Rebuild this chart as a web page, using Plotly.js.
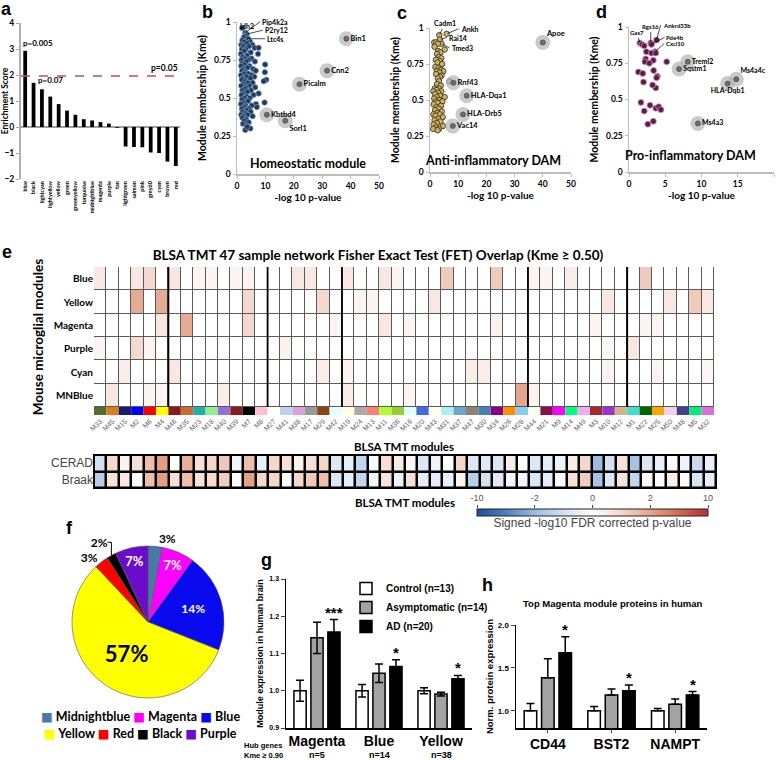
<!DOCTYPE html>
<html><head><meta charset="utf-8">
<script src="https://cdn.plot.ly/plotly-3.0.1.min.js"></script>
<style>html,body{margin:0;padding:0;background:#fff}#chart{width:778px;height:760px}</style>
</head><body><div id="chart"></div>
<script>
// ================= DATA =================
// a: enrichment
const enrichModules = ['blue','black','lightcyan','lightyellow','yellow','green','greenyellow','turquoise','midnightblue','magenta','purple','tan','lightgreen','salmon','pink','grey60','cyan','brown','red'];
const enrichScores = [2.93,1.70,1.45,1.17,0.88,0.63,0.47,0.30,0.25,0.19,0.13,-0.03,-0.75,-0.77,-0.78,-0.98,-1.00,-1.33,-1.50];
const enrichThreshold = 1.96;
const enrichPLabels = ['p=0.005','p=0.07'];
const enrichThresholdLabel = 'p=0.05';

// b: homeostatic module
const bX = [1.8,2.9,3.4,3.0,2.4,3.9,1.9,4.6,2.7,3.6, 1.5,5.4,2.2,4.2,6.2,7.6,1.7,3.1,2.5,4.8, 7.4,1.4,3.5,2.0,5.1,2.8,1.6,4.0,3.2,6.3, 1.9,9.9,2.6,4.4,1.5,3.7,2.2,5.7,6.6,1.8, 3.0,9.8,4.1,2.4,1.4,5.2,3.4,6.1,2.0,4.7, 10.3,9.4,1.7,2.9,3.8,5.5,2.3,1.5,4.3,3.1, 6.4,2.7,1.9,4.9,3.6,2.1,7.6,1.6,5.8,3.3, 2.5,4.5,1.8,3.9,2.2,9.7,6.7,1.4,5.2,3.0, 2.6,4.2,1.7,3.5,7.0,2.0,4.8,2.9,1.5,3.7, 2.3,5.5,1.9,3.2,2.6,4.1,2.1,3.4,4.7,2.9, 3.6];
const bY = [0.96,0.93,0.92,0.91,0.90,0.89,0.88,0.87,0.87,0.86, 0.85,0.85,0.84,0.84,0.83,0.83,0.82,0.82,0.81,0.80, 0.79,0.79,0.78,0.77,0.76,0.76,0.75,0.75,0.74,0.74, 0.73,0.72,0.72,0.71,0.71,0.70,0.69,0.69,0.68,0.68, 0.67,0.67,0.66,0.66,0.65,0.65,0.64,0.64,0.63,0.63, 0.62,0.61,0.62,0.61,0.60,0.60,0.59,0.58,0.58,0.57, 0.57,0.56,0.55,0.55,0.54,0.53,0.53,0.52,0.52,0.51, 0.50,0.50,0.49,0.48,0.47,0.47,0.46,0.46,0.45,0.45, 0.44,0.43,0.43,0.42,0.44,0.41,0.41,0.40,0.39,0.39, 0.38,0.38,0.37,0.36,0.35,0.34,0.33,0.32,0.30,0.29, 0.31];
const bHaloNames = ['Bin1','Cnn2','Picalm','Kbtbd4','Sorl1'];
const bHaloX = [38.5,31.7,22,10.5,17];
const bHaloY = [0.89,0.68,0.59,0.39,0.35];
const bLeadNames = ['Idh2','Pip4k2a','P2ry12','Ltc4s'];
const bLeadX = [1.8,2.9,3.4,3.9];
const bLeadY = [0.96,0.93,0.92,0.89];

// c: anti-inflammatory DAM
const cX = [3.3,5.9,3.5,4.1,1.5,2.2,2.8,1.6,5.2,2.9, 3.7,2.5,3.2,4.0,2.1,3.5,2.7,4.3,1.9,3.0, 3.9,2.4,4.7,3.4,2.2,4.1,3.6,2.8,3.2,6.9, 2.5,3.8,1.7,3.1,2.3,1.2,4.0,2.9,1.8,3.6, 2.4,5.2,1.5,3.3,2.1,4.4,2.7,1.3,3.9,2.3, 3.1,1.8,4.2,2.6,1.2,3.5,2.0,4.5,2.9,1.6, 3.7,2.4,1.3,4.6,2.1,1.1,3.2,2.7];
const cY = [0.95,0.96,0.92,0.89,0.90,0.90,0.89,0.87,0.85,0.84, 0.83,0.82,0.80,0.79,0.78,0.77,0.76,0.75,0.73,0.72, 0.71,0.70,0.70,0.69,0.68,0.67,0.66,0.65,0.63,0.63, 0.61,0.60,0.58,0.58,0.57,0.56,0.56,0.55,0.54,0.53, 0.52,0.52,0.51,0.50,0.49,0.49,0.48,0.47,0.46,0.45, 0.44,0.43,0.42,0.41,0.40,0.40,0.39,0.38,0.37,0.36, 0.35,0.34,0.33,0.32,0.31,0.30,0.30,0.29];
const cHaloNames = ['Apoe','Rnf43','HLA-Dqa1','HLA-Drb5','Vac14'];
const cHaloX = [40,8.3,13,11.7,8.1];
const cHaloY = [0.90,0.62,0.53,0.40,0.32];
const cLeadNames = ['Cadm1','Ankh','Rai14','Tmed3'];
const cLeadX = [3.3,5.9,3.5,4.1];
const cLeadY = [0.95,0.96,0.92,0.89];

// d: pro-inflammatory DAM
const dX = [1.5,1.8,2.1,3.0,3.8,3.1,3.6,2.4,3.1,3.7, 2.3,2.2,3.35,2.8,5.2,1.3,1.9,3.4,3.9,3.8, 3.7,2.0,3.25,1.65,2.9,2.1,3.7,4.1,4.4,2.6, 3.35];
const dY = [0.89,0.88,0.87,0.89,0.91,0.88,0.83,0.83,0.82,0.82, 0.78,0.76,0.77,0.75,0.76,0.69,0.68,0.70,0.66,0.65, 0.58,0.62,0.60,0.48,0.46,0.42,0.44,0.45,0.43,0.33, 0.35];
const dHaloNames = ['Treml2','Sqstm1','Ms4a4c','HLA-Dqb1','Ms4a3'];
const dHaloX = [8.1,6.9,14.8,13.6,9.5];
const dHaloY = [0.76,0.71,0.64,0.61,0.335];
const dLeadNames = ['Gas7','Rgs16','Ankrd33b','Pde4b','Cxcl10'];
const dLeadX = [1.5,3.0,3.8,3.1,3.6];
const dLeadY = [0.89,0.89,0.91,0.88,0.83];

// e: FET overlap
const moduleNames = ['M33','M45','M15','M2','M6','M4','M46','M35','M23','M18','M40','M39','M7','M8','M27','M41','M38','M17','M29','M42','M19','M24','M13','M11','M36','M16','M20','M43','M31','M37','M47','M30','M34','M26','M28','M44','M21','M9','M14','M49','M3','M10','M12','M1','M22','M25','M50','M48','M5','M32'];
const moduleColors = ['#556b2f','#e07b1a','#191970','#0000ff','#ff0000','#ffff00','#8b1a1a','#cd6839','#20b2aa','#90ee90', '#9370db','#8b1a1a','#000000','#ffc0cb','#ffffff','#bcd2ee','#dda0dd','#999999','#8b4513','#e0ffff', '#ffffe0','#a9a9a9','#fa8072','#adff2f','#9acd32', '#e0ffff','#4169e1','#fffff0','#afeeee','#6ca6cd', '#8b8378','#4682b4','#8b008b','#ff8c00','#87ceeb', '#fffff0','#8b0a50','#ff00ff','#00ff7f','#eeaeee', '#a52a2a','#9a32cd','#d2b48c','#40e0d0','#006400', '#ffa500','#eed2ee','#483d8b','#00ee76','#da70d6'];
const moduleGroupStarts = ['M46','M27','M19','M44','M1'];
const fetRows = ['Blue','Yellow','Magenta','Purple','Cyan','MNBlue'];
const fetBlue    = [1,0,0,1,1.5,0,1,0,0.5,0.5, 0,0.5,0.5,0,0,0,1,1,0,0, 1,0,0,1,0.5,0,0,0,2,0, 0,0,2,0,0,0.5,0.5,0,0.8,0, 0,0,0,0,2,0,0,0,0,0];
const fetYellow  = [0,0,0,3,0,3,0,0,0,0, 0,0,1.5,0,0,0,0,0,1.5,0, 0,0.5,0.5,0,0,0,0,1,0,0, 0,0,0,0,0,0,0,0,0,0, 0,1,0,0,0,0,1,0,2,1];
const fetMagenta = [0,0,0,0,0,1,0,3,0,0, 0,0,1.5,0,0,0,0,0,0,0.5, 0,0,0,1,0,0.5,0,0,0,0, 0,0,0.6,0,0,0,0,0,0,0, 0.5,0,0,0,0.5,0.5,0,0,0,0];
const fetPurple  = [0.5,0,0,1.5,0.5,0,0,0,0,0, 0,0,0,0,0,0.6,0,0,0,0, 0,0,0,0,0,0,0,0,0,0, 0,0,0,0,0,0,0,0,0,0, 0,0.3,0,1,0,0,0,0,0,0];
const fetCyan    = [0,0,0.8,0,0,0,1,0,0,0, 0,0,0,0,0,0,0,0,0.8,0, 0.5,0,0,0,0,0,0,0,0,0, 0.8,0.8,0,0,0,0,0,0,0,0, 0,0.5,0,0,0,0.5,0,0,0,0.4];
const fetMNBlue  = [0,1,0,0,0.5,0.5,0,0,0,0, 0.8,0,0,0,0,0,0,0,0,0, 0.8,0,0,0,0,0.5,0,0,0,0, 0,0,0,0,3.2,0.5,0,0,0,0, 0,0,0,0,0,0,0,0,0,0];
const traitRows = ['CERAD','Braak'];
const ceradSigned = [-1,1,0.3,0.8,1.5,2.5,0,1.8,0.8,1, 1.3,-0.3,1.5,-0.5,1,0.8,0.3,0.8,1,-0.8, -0.6,-1.3,-0.2,0.8,0.5, 0.2,-0.8,-0.4,0,1, -0.8,-0.7,-0.8,0.5,0,-0.8,-0.6,-0.4,0.5,1, -2,-1,0.7,-1.8,-0.8,-0.5,0.1,-0.4,-1.2,-0.5];
const braakSigned = [-1.5,0.7,0.6,0,1.5,2.5,0.8,1.5,0.7,0.9, 1.2,0.1,2.3,1,1,0,1,1.3,1.5,-0.8, -0.6,-1.3,-0.3,0.7,-0.4, 0.8,-0.6,-0.6,-0.5,0.3, -1.5,-1,-0.7,-0.3,-0.3,-0.8,-0.6,0,0.8,1.2, -1.8,-0.8,0.7,-1.3,0.2,0.1,0.4,0.1,-0.9,-0.6];
const colorbarTicks = [-10,-2,0,2,10];

// f: pie
const pieLabels = ['Midnightblue','Magenta','Blue','Yellow','Red','Black','Purple'];
const pieShares = [3,7,21,57,3,2,7];
const pieText = ['3%','7%','14%','57%','3%','2%','7%'];
const pieColors = ['#4a78a8','#ff00ff','#0a0aee','#ffff00','#ff0000','#000000','#6a0ccc'];

// g: module expression
const gGroups = ['Magenta','Blue','Yellow'];
const gHubN = [5,14,38];
const gControl = [1.0,1.0,1.0];
const gControlErr = [0.028,0.017,0.008];
const gAsym = [1.142,1.047,0.991];
const gAsymErr = [0.042,0.025,0.005];
const gAD = [1.158,1.065,1.032];
const gADErr = [0.033,0.018,0.009];
const gSig = ['***','*','*'];
const seriesNames = ['Control (n=13)','Asymptomatic (n=14)','AD (n=20)'];

// h: top magenta proteins
const hGroups = ['CD44','BST2','NAMPT'];
const hControl = [1.0,1.0,1.0];
const hControlErr = [0.086,0.05,0.027];
const hAsym = [1.384,1.184,1.078];
const hAsymErr = [0.224,0.07,0.059];
const hAD = [1.678,1.235,1.184];
const hADErr = [0.185,0.067,0.04];
const hSig = ['*','*','*'];

// ================= HELPERS =================
const W = 778, H = 760;
const px = v => v / W;
const py = v => 1 - v / H;
const dom = (a, b) => [px(a), px(b)];
const domY = (top, bottom) => [py(bottom), py(top)];
const CAL = 'Lato, "Open Sans", "DejaVu Sans", sans-serif';
const ARI = '"Liberation Sans", Arial, sans-serif';
const fnt = (size, family, color, weight) => ({size: size, family: family || CAL, color: color || '#000', weight: weight || 'bold'});
const BARGAP = 0.18, BARGROUPGAP = 0.28;

const traces = [];
const annotations = [];
const shapes = [];

// ---------- a ----------
traces.push({type:'bar', x: enrichModules, y: enrichScores, xaxis:'x', yaxis:'y', width:0.45,
  marker:{color:'#000'}, showlegend:false, hoverinfo:'skip'});
shapes.push({type:'line', xref:'x domain', x0:0, x1:1, yref:'y', y0:enrichThreshold, y1:enrichThreshold,
  line:{color:'#c0504d', width:1.6, dash:'dash'}});
annotations.push({xref:'x', yref:'y', x:0, y:enrichScores[0], text:enrichPLabels[0], showarrow:false,
  xanchor:'left', yanchor:'bottom', xshift:-4, yshift:1, font:fnt(8)});
annotations.push({xref:'x', yref:'y', x:1, y:enrichScores[1], text:enrichPLabels[1], showarrow:false,
  xanchor:'left', yanchor:'middle', xshift:2, yshift:3, font:fnt(8)});
annotations.push({xref:'x domain', yref:'y', x:1, y:enrichThreshold, text:enrichThresholdLabel, showarrow:false,
  xanchor:'right', yanchor:'bottom', yshift:1, font:fnt(8.5)});

// ---------- scatter panels ----------
function scatterPanel(n, cx, cy, cloudMarker, hNames, hX, hY, hPos, hFont) {
  const xa = 'x' + n, ya = 'y' + n;
  traces.push({type:'scatter', mode:'markers', x:cx, y:cy, xaxis:xa, yaxis:ya, marker:cloudMarker,
    showlegend:false, hoverinfo:'skip', cliponaxis:false});
  traces.push({type:'scatter', mode:'markers', x:hX, y:hY, xaxis:xa, yaxis:ya,
    marker:{size:15, color:'rgba(180,180,180,0.7)'}, showlegend:false, hoverinfo:'skip', cliponaxis:false});
  traces.push({type:'scatter', mode:'markers+text', x:hX, y:hY, text:hNames, textposition:hPos,
    textfont:fnt(hFont), xaxis:xa, yaxis:ya, marker:{size:5, color:'#6e6e6e', line:{color:'#333', width:0.6}},
    showlegend:false, hoverinfo:'skip', cliponaxis:false});
}
function leaders(n, names, xs, ys, offs) {
  names.forEach((t, i) => {
    const o = offs[i];
    if (o.noArrow) {
      annotations.push({xref:'x'+n, yref:'y'+n, x:xs[i], y:ys[i], text:t, showarrow:false,
        xanchor:o.xa || 'center', yanchor:'bottom', xshift:o.ax, yshift:-o.ay, font:fnt(o.fs || 7)});
    } else {
      annotations.push({xref:'x'+n, yref:'y'+n, x:xs[i], y:ys[i], text:t, showarrow:true, arrowhead:0,
        arrowwidth:0.7, arrowcolor:'#000', ax:o.ax, ay:o.ay, xanchor:o.xa || 'left', yanchor:'middle',
        standoff:1, font:fnt(o.fs || 7)});
    }
  });
}
scatterPanel(2, bX, bY, {size:5.5, color:'#1f3a5c', line:{color:'#7f9fc4', width:0.7}},
  bHaloNames, bHaloX, bHaloY, ['middle right','middle right','middle right','middle right','bottom right'], 7.5);
leaders(2, bLeadNames, bLeadX, bLeadY, [
  {noArrow:true, ax:-4, ay:4, xa:'left'}, {ax:15, ay:-11}, {ax:16, ay:-4}, {ax:17, ay:0}]);

scatterPanel(3, cX, cY, {size:5.5, color:'#d2b25c', line:{color:'#2a2a2a', width:0.8}},
  cHaloNames, cHaloX, cHaloY, ['top right','middle right','middle right','middle right','middle right'], 7.5);
leaders(3, cLeadNames, cLeadX, cLeadY, [
  {ax:6, ay:-12, xa:'center'}, {ax:12, ay:-5}, {ax:7, ay:-2}, {ax:8, ay:4}]);

scatterPanel(4, dX, dY, {size:6, color:'#5e1a48', line:{color:'#c99ab8', width:0.8}},
  dHaloNames, dHaloX, dHaloY, ['middle right','middle right','top right','bottom center','middle right'], 7);
leaders(4, dLeadNames, dLeadX, dLeadY, [
  {ax:-3, ay:-10, xa:'center', fs:6}, {ax:0, ay:-16, xa:'center', fs:6}, {ax:4, ay:-15, fs:6},
  {ax:13, ay:-7, fs:6}, {ax:9, ay:-8, fs:6}]);

// ---------- e ----------
traces.push({type:'heatmap', z:[fetBlue,fetYellow,fetMagenta,fetPurple,fetCyan,fetMNBlue], x:moduleNames, y:fetRows,
  xaxis:'x5', yaxis:'y5', zmin:0, zmax:3.5, colorscale:[[0,'#ffffff'],[0.3,'#f9e7df'],[1,'#e19c82']],
  showscale:false, xgap:1, ygap:1, hoverinfo:'skip'});
shapes.push({type:'rect', xref:'x5 domain', yref:'y5 domain', x0:0, x1:1, y0:0, y1:1,
  fillcolor:'#5a5a5a', line:{width:0}, layer:'below'});
moduleGroupStarts.forEach(m => {
  const k = moduleNames.indexOf(m) - 0.5;
  shapes.push({type:'line', xref:'x5', yref:'y5 domain', x0:k, x1:k, y0:0, y1:1, line:{color:'#000', width:1.8}});
});
traces.push({type:'bar', x:moduleNames, y:moduleNames.map(() => 1), xaxis:'x6', yaxis:'y6', width:1,
  marker:{color:moduleColors, line:{width:0}}, showlegend:false, hoverinfo:'skip'});

const toBar = v => Math.sign(v) * (Math.abs(v) <= 2 ? Math.abs(v) / 2 : 1 + (Math.abs(v) - 2) / 8);
traces.push({type:'heatmap', z:[ceradSigned.map(toBar), braakSigned.map(toBar)], x:moduleNames, y:traitRows,
  xaxis:'x7', yaxis:'y7', zmin:-2, zmax:2, xgap:2.5, ygap:2.5, hoverinfo:'skip',
  colorscale:[[0,'#1b4f9c'],[0.12,'#4a7dc0'],[0.25,'#9bbbe3'],[0.38,'#d4e2f3'],[0.5,'#ffffff'],
              [0.62,'#f6d9cd'],[0.75,'#e6a48b'],[0.88,'#d46a4a'],[0.97,'#bf3a3a'],[1,'#b8323e']],
  colorbar:{orientation:'h', x:px(592.5), xanchor:'center', y:py(509), yanchor:'top', len:231, lenmode:'pixels',
    thickness:7, thicknessmode:'pixels', xpad:0, ypad:0, outlinecolor:'#222', outlinewidth:1,
    tickmode:'array', tickvals:[], ticks:'', tickfont:{size:1, color:'rgba(0,0,0,0)'},
    title:{text:'Signed -log10 FDR corrected p-value', side:'bottom', font:{size:12, family:ARI, color:'#444'}}}});
shapes.push({type:'rect', xref:'x7 domain', yref:'y7 domain', x0:0, x1:1, y0:0, y1:1,
  fillcolor:'#000', line:{width:0}, layer:'below'});
shapes.push({type:'rect', xref:'x7 domain', yref:'y7 domain', x0:0, x1:1, y0:0, y1:1,
  fillcolor:'rgba(0,0,0,0)', line:{width:2, color:'#000'}});
// invisible anchor trace so the colour-bar tick axis (same transformed scale) is drawn
traces.push({type:'scatter', mode:'markers', x:colorbarTicks.map(toBar), y:colorbarTicks.map(() => 0),
  xaxis:'x10', yaxis:'y10', marker:{opacity:0}, showlegend:false, hoverinfo:'skip'});

// ---------- f ----------
traces.push({type:'pie', labels:pieLabels, values:pieShares, text:pieText, textinfo:'text', sort:false,
  direction:'clockwise', rotation:0, domain:{x:dom(72,224), y:domY(546,698)},
  marker:{colors:pieColors, line:{color:'#555', width:0.6}},
  textposition:['outside','inside','inside','inside','outside','outside','inside'],
  textfont:{family:CAL, weight:'bold', size:[12,13,12,22,12,12,13], color:['#000','#fff','#fff','#000','#000','#000','#fff']},
  insidetextorientation:'horizontal', showlegend:false, hoverinfo:'skip'});
[[0,3],[3,7]].forEach((r, row) => {
  const txt = pieLabels.slice(r[0], r[1]).map((l, i) =>
    `<span style="color:${pieColors[r[0]+i]}">■</span> ${l}`).join(' ');
  annotations.push({xref:'paper', yref:'paper', x:px(140), y:py(716 + row*17), text:txt, showarrow:false,
    xanchor:'center', yanchor:'middle', font:fnt(12.5)});
});

// ---------- g ----------
const gSeries = [[gControl,gControlErr,'#ffffff'],[gAsym,gAsymErr,'#a3a3a3'],[gAD,gADErr,'#000000']];
gSeries.forEach((s, k) => {
  traces.push({type:'bar', name:seriesNames[k], x:gGroups, y:s[0], xaxis:'x8', yaxis:'y8',
    marker:{color:s[2], line:{color:'#000', width:1.5}},
    error_y:{type:'data', array:s[1], color:'#000', thickness:1.5, width:4},
    showlegend:true, hoverinfo:'skip'});
});
const adOff = (1 - BARGAP) / 3;
gSig.forEach((s, i) => annotations.push({xref:'x8', yref:'y8', x:i + adOff, y:gAD[i] + gADErr[i], text:s,
  showarrow:false, yanchor:'bottom', yshift:-3, font:fnt(15, ARI)}));
gHubN.forEach((n, i) => annotations.push({xref:'x8', yref:'paper', x:i, y:py(755), text:'n=' + n,
  showarrow:false, xanchor:'center', yanchor:'middle', font:fnt(9, ARI)}));
annotations.push({xref:'paper', yref:'paper', x:px(242), y:py(750), text:'Hub genes<br>Kme ≥ 0.90', align:'left',
  showarrow:false, xanchor:'left', yanchor:'middle', font:fnt(7.5, ARI)});

// ---------- h ----------
const hSeries = [[hControl,hControlErr,'#ffffff'],[hAsym,hAsymErr,'#a3a3a3'],[hAD,hADErr,'#000000']];
hSeries.forEach((s, k) => {
  traces.push({type:'bar', name:seriesNames[k], x:hGroups, y:s[0], xaxis:'x9', yaxis:'y9',
    marker:{color:s[2], line:{color:'#000', width:1.5}},
    error_y:{type:'data', symmetric:false, array:s[1], arrayminus:[0,0,0], color:'#000', thickness:1.5, width:4},
    showlegend:false, hoverinfo:'skip'});
});
hSig.forEach((s, i) => annotations.push({xref:'x9', yref:'y9', x:i + adOff, y:hAD[i] + hADErr[i], text:s,
  showarrow:false, yanchor:'bottom', yshift:-3, font:fnt(15, ARI)}));
annotations.push({xref:'paper', yref:'paper', x:px(612), y:py(603), text:'Top Magenta module proteins in human',
  showarrow:false, xanchor:'center', yanchor:'middle', font:fnt(9.5, ARI)});

// ---------- panel texts ----------
[['a',6,9],['b',207,12],['c',402,13],['d',601,12],['e',7,252],['f',69,528],['g',266,560],['h',487,585]].forEach(p =>
  annotations.push({xref:'paper', yref:'paper', x:px(p[1]), y:py(p[2]), text:p[0], showarrow:false,
    xanchor:'center', yanchor:'middle', font:fnt(18, ARI)}));
[['Homeostatic module',308,163],['Anti-inflammatory DAM',493,160],['Pro-inflammatory DAM',690,155]].forEach(p =>
  annotations.push({xref:'paper', yref:'paper', x:px(p[1]), y:py(p[2]), text:p[0], showarrow:false,
    xanchor:'center', yanchor:'middle', font:fnt(12.5)}));

// ================= AXES =================
const scatAxes = (xd, yd, xmax, xdt) => ([
  {domain:xd, range:[0,xmax], dtick:xdt, showline:true, linecolor:'#bdbdbd', linewidth:1.5, ticks:'outside', ticklen:3,
   tickcolor:'#bdbdbd', showgrid:false, zeroline:false, tickfont:fnt(8.5), automargin:false,
   title:{text:'-log 10 p-value', font:fnt(10), standoff:3}},
  {domain:yd, range:[0,1], tickvals:[0,0.25,0.5,0.75,1], ticktext:['0','0.25','0.5','0.75','1'], showline:true,
   linecolor:'#bdbdbd', linewidth:1.5, ticks:'outside', ticklen:3, tickcolor:'#bdbdbd', showgrid:false, zeroline:false,
   tickfont:fnt(8.5), automargin:false, title:{text:'Module membership (Kme)', font:fnt(10.5), standoff:5}}
]);
const [x2, y2] = scatAxes(dom(237,379), domY(22,174), 50, 10);
const [x3, y3] = scatAxes(dom(430,571), domY(28,172), 50, 10);
const [x4, y4] = scatAxes(dom(629,774), domY(27,172), 20, 5);

const layout = {
  width:W, height:H, margin:{l:0, r:0, t:0, b:0, pad:0},
  paper_bgcolor:'#ffffff', plot_bgcolor:'rgba(0,0,0,0)',
  font:{family:CAL, color:'#000'},
  barmode:'group', bargap:BARGAP, bargroupgap:BARGROUPGAP,
  title:{text:'BLSA TMT 47 sample network Fisher Exact Test (FET) Overlap (Kme ≥ 0.50)', x:px(378), xanchor:'center',
    y:py(255), yanchor:'middle', font:fnt(13.5)},
  showlegend:true,
  legend:{x:px(346), y:py(574), xanchor:'left', yanchor:'top', bgcolor:'rgba(0,0,0,0)', font:fnt(10, ARI),
    tracegroupgap:0, itemwidth:30, traceorder:'normal'},
  xaxis:{domain:dom(21,180), anchor:'y', type:'category', range:[-0.5,18.5], tickangle:-90, tickfont:fnt(5.5),
    showline:false, ticks:'', showgrid:false, zeroline:false, automargin:false},
  yaxis:{domain:domY(23,179), anchor:'x', range:[-2,4], dtick:1, ticks:'outside', ticklen:3, tickcolor:'#aaa',
    showline:true, linecolor:'#b0b0b0', linewidth:2, zeroline:true, zerolinecolor:'#a0a0a0', zerolinewidth:1.5,
    showgrid:false, tickfont:fnt(8.5), automargin:false, title:{text:'Enrichment Score', font:fnt(8.5), standoff:1}},
  xaxis2:Object.assign(x2, {anchor:'y2'}), yaxis2:Object.assign(y2, {anchor:'x2'}),
  xaxis3:Object.assign(x3, {anchor:'y3'}), yaxis3:Object.assign(y3, {anchor:'x3'}),
  xaxis4:Object.assign(x4, {anchor:'y4'}), yaxis4:Object.assign(y4, {anchor:'x4'}),
  xaxis5:{domain:dom(94,714), anchor:'y5', type:'category', showticklabels:false, ticks:'', showgrid:false,
    zeroline:false, showline:false, automargin:false},
  yaxis5:{domain:domY(267,407), anchor:'x5', type:'category', autorange:'reversed', ticks:'', showgrid:false,
    zeroline:false, tickfont:fnt(10), automargin:false,
    title:{text:'Mouse microglial modules', font:fnt(13.5), standoff:6}},
  xaxis6:{domain:dom(94,714), anchor:'y6', type:'category', range:[-0.5,49.5], tickmode:'array', tickvals:moduleNames,
    ticktext:moduleNames, tickangle:-45, tickfont:{size:7, family:ARI, color:'#666'}, ticks:'', showgrid:false,
    zeroline:false, showline:false, automargin:false,
    title:{text:'BLSA TMT modules', font:fnt(11.5), standoff:11}},
  yaxis6:{domain:domY(407,415), anchor:'x6', range:[0,1], visible:false},
  xaxis7:{domain:dom(94,716), anchor:'y7', type:'category', showticklabels:false, ticks:'', showgrid:false,
    zeroline:false, showline:false, automargin:false,
    title:{text:'BLSA TMT modules', font:fnt(11.5), standoff:10}},
  yaxis7:{domain:domY(455,488), anchor:'x7', type:'category', autorange:'reversed', ticks:'', showgrid:false,
    zeroline:false, tickfont:{size:12, family:ARI, color:'#444'}, automargin:false},
  // tick labels for the colour bar (same transformed scale as the heatmap)
  xaxis10:{domain:dom(477,708), anchor:'y10', side:'top', range:[-2,2], tickmode:'array',
    tickvals:colorbarTicks.map(toBar), ticktext:colorbarTicks.map(String), ticks:'outside', ticklen:3,
    tickcolor:'#444', tickfont:{size:9, family:ARI, color:'#555'}, showgrid:false, zeroline:false, showline:false,
    automargin:false, fixedrange:true},
  yaxis10:{domain:domY(509,515), anchor:'x10', range:[0,1], visible:false, fixedrange:true},
  xaxis8:{domain:dom(286,472), anchor:'y8', type:'category', range:[-0.5,2.5],
    tickfont:fnt(14, ARI), showline:true, linecolor:'#000', linewidth:1.5, ticks:'', showgrid:false,
    zeroline:false, automargin:false},
  yaxis8:{domain:domY(579,728), anchor:'x8', range:[0.9,1.3], dtick:0.1, tickformat:'.1f', showline:true,
    linecolor:'#000', linewidth:1.5, ticks:'outside', ticklen:4, showgrid:false, zeroline:false,
    tickfont:fnt(7, ARI), automargin:false,
    title:{text:'Module expression in human brain', font:fnt(9, ARI), standoff:4}},
  xaxis9:{domain:dom(516,707), anchor:'y9', type:'category', range:[-0.5,2.5], tickfont:fnt(14, ARI),
    showline:true, linecolor:'#000', linewidth:1.5, ticks:'outside', ticklen:3, showgrid:false, zeroline:false,
    automargin:false},
  yaxis9:{domain:domY(625,728), anchor:'x9', range:[0.8,2.0], tickvals:[1,1.5,2], tickformat:'.1f', showline:true,
    linecolor:'#000', linewidth:1.5, ticks:'outside', ticklen:4, showgrid:false, zeroline:false,
    tickfont:fnt(8, ARI), automargin:false,
    title:{text:'Norm. protein expression', font:fnt(9.5, ARI), standoff:2}},
  annotations:annotations,
  shapes:shapes
};

Plotly.newPlot('chart', traces, layout, {displayModeBar:false, staticPlot:true});
</script>
</body></html>
